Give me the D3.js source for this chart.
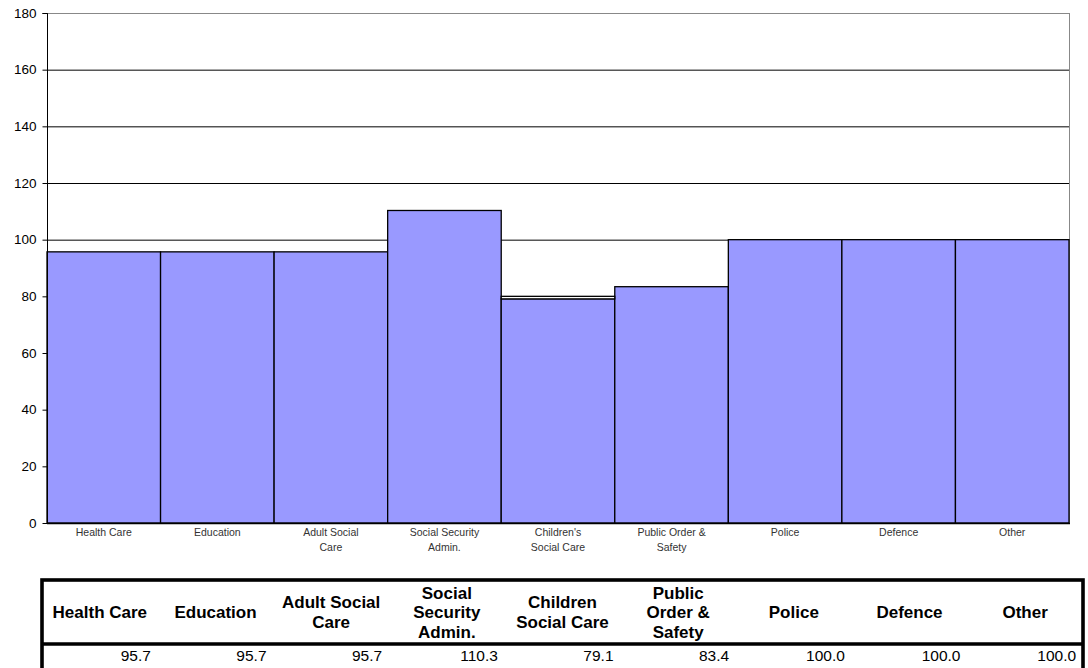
<!DOCTYPE html>
<html>
<head>
<meta charset="utf-8">
<script src="https://cdn.jsdelivr.net/npm/d3@7"></script>
<style>
  html, body { margin: 0; padding: 0; background: #fff; }
  svg { display: block; font-family: "Liberation Sans", Arial, sans-serif; }
</style>
</head>
<body>
<svg id="chart" width="1088" height="668"></svg>
<script>
// ---- data ----
const categories = ["Health Care","Education","Adult Social Care","Social Security Admin.","Children's Social Care","Public Order & Safety","Police","Defence","Other"];
const axisLabelLines = [["Health Care"],["Education"],["Adult Social","Care"],["Social Security","Admin."],["Children's","Social Care"],["Public Order &","Safety"],["Police"],["Defence"],["Other"]];
const tableHeaderLines = [["Health Care"],["Education"],["Adult Social","Care"],["Social","Security","Admin."],["Children","Social Care"],["Public","Order &","Safety"],["Police"],["Defence"],["Other"]];
const values = [95.7, 95.7, 95.7, 110.3, 79.1, 83.4, 100.0, 100.0, 100.0];
const extraValues = [0, 0, 0, 0, 0.9, 0, 0, 0, 0];
const yTicks = [0, 20, 40, 60, 80, 100, 120, 140, 160, 180];

// ---- layout ----
const svg = d3.select("#chart");
const plot = { left: 47, right: 1069, top: 13, bottom: 523 };

const x = d3.scaleBand().domain(categories).range([plot.left, plot.right]).padding(0);
const y = d3.scaleLinear().domain([0, 180]).range([plot.bottom, plot.top]);

// gridlines
svg.append("g").selectAll("line")
  .data(yTicks.filter(t => t > 0 && t < 180))
  .join("line")
  .attr("x1", plot.left).attr("x2", plot.right)
  .attr("y1", d => y(d) + 0.5).attr("y2", d => y(d) + 0.5)
  .attr("stroke", "#000").attr("stroke-width", 1);

// plot border top/right (gray)
svg.append("line").attr("x1", plot.left).attr("x2", plot.right)
  .attr("y1", y(180) + 0.5).attr("y2", y(180) + 0.5)
  .attr("stroke", "#888").attr("stroke-width", 1);
svg.append("line").attr("x1", plot.right + 0.5).attr("x2", plot.right + 0.5)
  .attr("y1", y(180)).attr("y2", plot.bottom)
  .attr("stroke", "#888").attr("stroke-width", 1);

// bars
svg.append("g").selectAll("rect")
  .data(categories)
  .join("rect")
  .attr("x", d => x(d))
  .attr("width", x.bandwidth())
  .attr("y", (d, i) => y(values[i]))
  .attr("height", (d, i) => y(0) - y(values[i]))
  .attr("fill", "#9999FF")
  .attr("stroke", "#000")
  .attr("stroke-width", 1.3);

// extra stacked segment
svg.append("g").selectAll("rect")
  .data(categories.filter((d, i) => extraValues[i] > 0))
  .join("rect")
  .attr("x", d => x(d))
  .attr("width", x.bandwidth())
  .attr("y", d => { const i = categories.indexOf(d); return y(values[i] + extraValues[i]); })
  .attr("height", d => { const i = categories.indexOf(d); return y(values[i]) - y(values[i] + extraValues[i]); })
  .attr("fill", "#fff")
  .attr("stroke", "#000")
  .attr("stroke-width", 1.3);

// y axis
const yAxis = d3.axisLeft(y).tickValues(yTicks).tickSize(5).tickPadding(6).tickFormat(d3.format("d"));
const yg = svg.append("g").attr("transform", `translate(${plot.left + 0.5},0)`).call(yAxis);
yg.select(".domain").attr("stroke", "#000").attr("d", `M-5,${plot.top + 0.5}H0V${plot.bottom}`);
yg.selectAll(".tick line").attr("stroke", "#000");
yg.selectAll(".tick text").attr("font-size", "13.5px").attr("fill", "#000")
  .attr("font-family", "'Liberation Sans', Arial, sans-serif");

// bottom axis line
svg.append("line").attr("x1", plot.left).attr("x2", plot.right + 1)
  .attr("y1", plot.bottom + 0.5).attr("y2", plot.bottom + 0.5)
  .attr("stroke", "#000").attr("stroke-width", 1.3);

// x labels
const xl = svg.append("g").selectAll("text")
  .data(categories)
  .join("text")
  .attr("text-anchor", "middle")
  .attr("font-size", "10.5px")
  .attr("fill", "#333")
  .attr("x", d => x(d) + x.bandwidth() / 2)
  .attr("y", 536);
xl.each(function(d, i) {
  const t = d3.select(this);
  axisLabelLines[i].forEach((line, k) => {
    t.append("tspan").attr("x", x(d) + x.bandwidth() / 2).attr("dy", k === 0 ? 0 : 15).text(line);
  });
});

// ---- data table ----
const table = { left: 42, right: 1083, top: 580, sep: 644 };
const col = d3.scaleBand().domain(categories).range([table.left, table.right]).padding(0);

svg.append("rect")
  .attr("x", table.left).attr("y", table.top)
  .attr("width", table.right - table.left).attr("height", 140)
  .attr("fill", "none").attr("stroke", "#000").attr("stroke-width", 3.6);
svg.append("line")
  .attr("x1", table.left).attr("x2", table.right)
  .attr("y1", table.sep).attr("y2", table.sep)
  .attr("stroke", "#000").attr("stroke-width", 3.6);

const headerCenterY = 612;
const lineH = 19.5;
svg.append("g").selectAll("text")
  .data(categories)
  .join("text")
  .attr("text-anchor", "middle")
  .attr("font-size", "17px")
  .attr("font-weight", "bold")
  .attr("fill", "#000")
  .each(function(d, i) {
    const lines = tableHeaderLines[i];
    const cx = col(d) + col.bandwidth() / 2;
    const startY = headerCenterY - (lines.length - 1) * lineH / 2 + 6;
    const t = d3.select(this);
    lines.forEach((line, k) => {
      t.append("tspan").attr("x", cx).attr("y", startY + k * lineH).text(line);
    });
  });

svg.append("g").selectAll("text")
  .data(categories)
  .join("text")
  .attr("text-anchor", "end")
  .attr("font-size", "15.5px")
  .attr("fill", "#000")
  .attr("x", d => col(d) + col.bandwidth() / 2 + 51)
  .attr("y", 661)
  .text((d, i) => values[i].toFixed(1));
</script>
</body>
</html>
